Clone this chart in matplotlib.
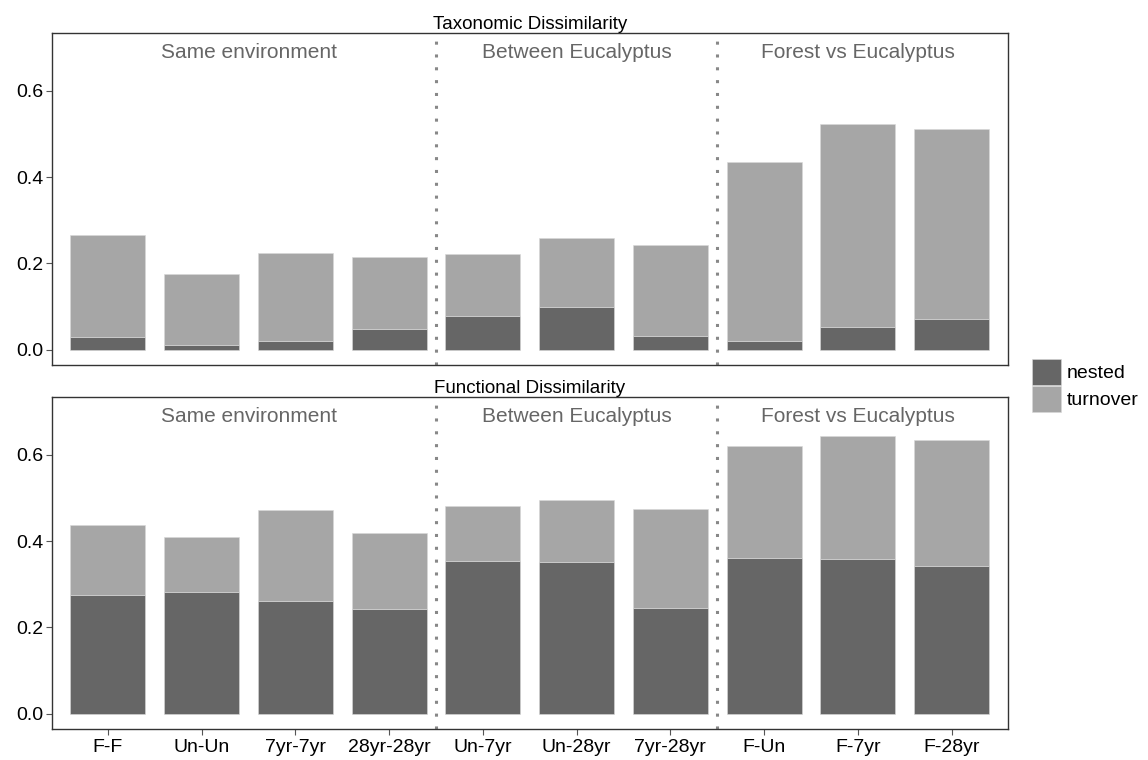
import matplotlib
matplotlib.use("Agg")
import matplotlib.pyplot as plt
from matplotlib.patches import Patch
import numpy as np

plt.rcParams['font.family'] = ['Liberation Sans', 'DejaVu Sans']

pairs = ["F-F", "Un-Un", "7yr-7yr", "28yr-28yr", "Un-7yr", "Un-28yr", "7yr-28yr",
         "F-Un", "F-7yr", "F-28yr"]
groups = ["Same environment", "Between Eucalyptus", "Forest vs Eucalyptus"]
group_centers = [1.5, 5.0, 8.0]
group_breaks = [3.5, 6.5]

# taxonomic dissimilarity: nested part and total (nested + turnover)
tax_nested = [0.030, 0.010, 0.021, 0.048, 0.077, 0.099, 0.031, 0.020, 0.052, 0.071]
tax_total = [0.266, 0.176, 0.225, 0.214, 0.222, 0.258, 0.243, 0.435, 0.524, 0.512]
tax_turnover = [t - n for t, n in zip(tax_total, tax_nested)]

# functional dissimilarity
fun_nested = [0.276, 0.283, 0.262, 0.243, 0.353, 0.351, 0.246, 0.360, 0.359, 0.343]
fun_total = [0.437, 0.409, 0.473, 0.419, 0.481, 0.495, 0.474, 0.621, 0.645, 0.634]
fun_turnover = [t - n for t, n in zip(fun_total, fun_nested)]

NESTED_COL = "#666666"
TURN_COL = "#a6a6a6"

fig = plt.figure(figsize=(11.48, 7.6), dpi=100)
ax1 = fig.add_axes([0.045, 0.520, 0.833, 0.437])
ax2 = fig.add_axes([0.045, 0.041, 0.833, 0.437])

x = np.arange(len(pairs))


def panel(ax, nested, turnover, title, show_x):
    ax.bar(x, nested, width=0.8, color=NESTED_COL, edgecolor="#d8d8d8", linewidth=0.4)
    ax.bar(x, turnover, width=0.8, bottom=nested, color=TURN_COL,
           edgecolor="#d8d8d8", linewidth=0.4)
    for b in group_breaks:
        ax.axvline(b, color="#888888", linestyle=(0, (1, 3.2)), linewidth=2.2)
    for g, c in zip(groups, group_centers):
        ax.text(c, 0.69, g, ha="center", va="center", fontsize=15, color="#666666")
    ax.set_xlim(-0.6, 9.6)
    ax.set_ylim(-0.035, 0.735)
    ax.set_yticks([0.0, 0.2, 0.4, 0.6])
    ax.set_yticklabels(["0.0", "0.2", "0.4", "0.6"])
    ax.tick_params(axis="y", labelsize=14, color="#555555", length=4, pad=2)
    if show_x:
        ax.set_xticks(x)
        ax.set_xticklabels(pairs)
        ax.tick_params(axis="x", labelsize=14, color="#555555", length=4, pad=3)
    else:
        ax.set_xticks([])
    for s in ax.spines.values():
        s.set_color("#333333")
        s.set_linewidth(1.0)
    ax.set_title(title, fontsize=13.5, pad=3)


panel(ax1, tax_nested, tax_turnover, "Taxonomic Dissimilarity", False)
panel(ax2, fun_nested, fun_turnover, "Functional Dissimilarity", True)

handles = [Patch(facecolor=NESTED_COL, edgecolor="#d8d8d8", linewidth=0.4, label="nested"),
           Patch(facecolor=TURN_COL, edgecolor="#d8d8d8", linewidth=0.4, label="turnover")]
fig.legend(handles=handles, loc="center left", bbox_to_anchor=(0.899, 0.493),
           frameon=False, fontsize=14, handlelength=1.5, handleheight=1.7,
           labelspacing=0.05, handletextpad=0.3, borderaxespad=0, borderpad=0)

fig.savefig("out.png", dpi=100)
